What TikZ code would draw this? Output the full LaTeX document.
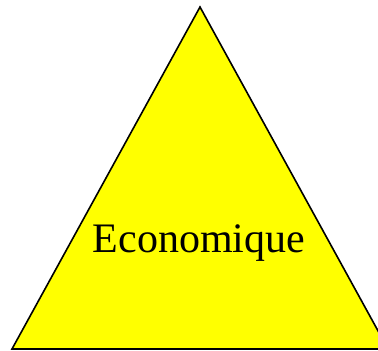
\documentclass[tikz,border=0pt]{standalone}
\usepackage{fontspec}
\setmainfont{Liberation Serif}
\usetikzlibrary{calc}
\definecolor{pureyellow}{RGB}{255,255,0}

\begin{document}
\begin{tikzpicture}[x=1pt, y=1pt]

%FRAME
\useasboundingbox (0,0) rectangle (378,351);
\clip (0,0) rectangle (378,351);

%TRIANGLE
\filldraw[fill=pureyellow, draw=black, line width=1.6pt, line join=miter] (12,2) -- (200,344) -- (388,2) -- cycle;

%%%%%%%%%%%%%%%%%%%%
\node[anchor=base, inner sep=0pt, font=\fontsize{42}{42}\selectfont] (eco) at (199,98) {Economique};
\end{tikzpicture}
\end{document}
